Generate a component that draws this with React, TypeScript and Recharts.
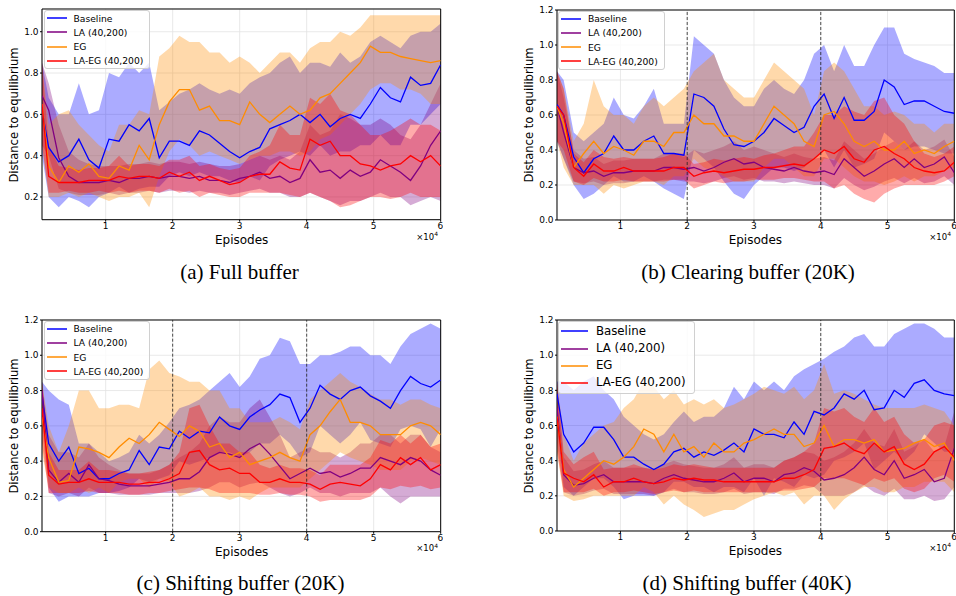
import React from 'react';
import { ComposedChart, Line, Area, XAxis, YAxis, CartesianGrid, ReferenceLine, ReferenceArea } from 'recharts';

// episodes (x 10^4)
const episodes = [
  0.05, 0.15, 0.3, 0.45, 0.6, 0.75, 0.9, 1.05, 1.2, 1.35,
  1.5, 1.65, 1.8, 1.95, 2.1, 2.25, 2.4, 2.55, 2.7, 2.85,
  3.0, 3.15, 3.3, 3.45, 3.6, 3.75, 3.9, 4.05, 4.2, 4.35,
  4.5, 4.65, 4.8, 4.95, 5.1, 5.25, 5.4, 5.55, 5.7, 5.85, 6.0,
];
const xTicks = [1, 2, 3, 4, 5, 6];

// (a) Full buffer
const aBaseMean = [0.62,0.44,0.37,0.40,0.48,0.38,0.34,0.48,0.47,0.55, 0.52,0.58,0.39,0.47,0.47,0.45,0.52,0.50,0.46,0.42, 0.39,0.42,0.44,0.53,0.55,0.57,0.60,0.56,0.60,0.54, 0.58,0.60,0.58,0.65,0.73,0.68,0.66,0.78,0.74,0.75, 0.84];
const aBaseHi = [0.85,0.68,0.60,0.60,0.75,0.60,0.62,0.80,0.78,0.85, 0.80,0.85,0.62,0.66,0.70,0.72,0.75,0.72,0.70,0.72, 0.70,0.75,0.78,0.80,0.85,0.88,0.80,0.85,0.85,0.83, 0.90,0.85,0.88,0.95,0.98,0.95,0.92,0.98,1.00,1.00, 1.04];
const aBaseLo = [0.40,0.20,0.15,0.20,0.18,0.15,0.20,0.22,0.25,0.22, 0.24,0.25,0.25,0.30,0.32,0.30,0.32,0.30,0.30,0.28, 0.27,0.30,0.28,0.35,0.38,0.40,0.42,0.40,0.45,0.40, 0.42,0.42,0.45,0.45,0.50,0.45,0.45,0.55,0.55,0.60, 0.65];
const aLaMean = [0.69,0.62,0.39,0.30,0.27,0.27,0.27,0.28,0.27,0.29, 0.29,0.30,0.29,0.30,0.30,0.29,0.30,0.28,0.28,0.27, 0.29,0.30,0.32,0.29,0.30,0.27,0.29,0.38,0.32,0.33, 0.29,0.33,0.30,0.32,0.38,0.35,0.32,0.28,0.35,0.45, 0.52];
const aLaHi = [0.85,0.75,0.55,0.42,0.38,0.36,0.35,0.35,0.35,0.36, 0.36,0.37,0.36,0.37,0.37,0.36,0.37,0.36,0.35,0.35, 0.36,0.38,0.40,0.38,0.40,0.38,0.42,0.55,0.50,0.52, 0.60,0.58,0.55,0.55,0.58,0.55,0.50,0.48,0.55,0.65, 0.75];
const aLaLo = [0.45,0.40,0.24,0.22,0.21,0.21,0.21,0.22,0.21,0.22, 0.22,0.23,0.22,0.23,0.23,0.22,0.23,0.22,0.22,0.21, 0.22,0.23,0.24,0.22,0.22,0.20,0.20,0.22,0.20,0.18, 0.16,0.18,0.18,0.20,0.22,0.20,0.20,0.16,0.18,0.20, 0.18];
const aEgMean = [0.65,0.35,0.27,0.35,0.32,0.36,0.30,0.29,0.35,0.33, 0.45,0.38,0.55,0.66,0.72,0.72,0.62,0.64,0.57,0.57, 0.55,0.66,0.60,0.56,0.60,0.64,0.60,0.62,0.68,0.70, 0.75,0.80,0.85,0.93,0.90,0.90,0.88,0.87,0.86,0.85, 0.86];
const aEgHi = [0.85,0.55,0.60,0.62,0.55,0.50,0.45,0.42,0.55,0.55, 0.62,0.60,0.88,0.92,0.98,0.95,0.95,0.90,0.90,0.85, 0.88,0.85,0.80,0.85,0.90,0.90,0.85,0.92,0.95,0.95, 1.00,0.98,1.02,1.08,1.08,1.08,1.08,1.08,1.08,1.08, 1.08];
const aEgLo = [0.45,0.20,0.20,0.22,0.20,0.22,0.20,0.18,0.20,0.20, 0.22,0.15,0.30,0.42,0.48,0.45,0.40,0.42,0.40,0.38, 0.36,0.38,0.40,0.40,0.42,0.42,0.40,0.42,0.48,0.50, 0.55,0.60,0.65,0.72,0.75,0.75,0.72,0.72,0.70,0.65, 0.65];
const aLaEgMean = [0.65,0.30,0.27,0.27,0.27,0.28,0.28,0.28,0.30,0.29, 0.30,0.30,0.29,0.32,0.30,0.32,0.28,0.30,0.28,0.26, 0.27,0.30,0.31,0.31,0.37,0.34,0.33,0.48,0.45,0.47, 0.40,0.40,0.36,0.35,0.33,0.35,0.36,0.40,0.37,0.40, 0.35];
const aLaEgHi = [0.85,0.45,0.35,0.34,0.33,0.34,0.34,0.35,0.40,0.35, 0.36,0.36,0.35,0.38,0.38,0.40,0.35,0.36,0.34,0.33, 0.34,0.40,0.42,0.45,0.55,0.50,0.50,0.68,0.65,0.70, 0.62,0.60,0.55,0.50,0.50,0.52,0.55,0.58,0.55,0.55, 0.52];
const aLaEgLo = [0.45,0.22,0.22,0.23,0.22,0.22,0.23,0.22,0.23,0.22, 0.23,0.23,0.22,0.24,0.22,0.23,0.20,0.22,0.21,0.20, 0.20,0.22,0.22,0.22,0.22,0.21,0.20,0.22,0.20,0.18, 0.15,0.16,0.18,0.20,0.20,0.19,0.20,0.22,0.20,0.20, 0.20];

// (b) Clearing buffer (20K)
const bBaseMean = [0.66,0.60,0.36,0.27,0.35,0.38,0.48,0.40,0.40,0.45, 0.48,0.38,0.38,0.37,0.72,0.70,0.65,0.52,0.43,0.42, 0.45,0.50,0.58,0.54,0.50,0.53,0.65,0.72,0.58,0.70, 0.57,0.57,0.62,0.80,0.76,0.66,0.68,0.68,0.65,0.62, 0.61];
const bBaseHi = [0.85,0.80,0.50,0.45,0.50,0.55,0.70,0.60,0.58,0.65, 0.75,0.55,0.55,0.55,1.05,1.00,0.95,0.80,0.70,0.65, 0.65,0.75,0.80,0.75,0.72,0.80,0.95,1.00,0.85,1.00, 0.88,0.88,1.00,1.10,1.10,0.95,0.92,0.90,0.88,0.84, 0.84];
const bBaseLo = [0.45,0.35,0.20,0.12,0.15,0.20,0.25,0.22,0.22,0.25, 0.22,0.18,0.15,0.12,0.40,0.35,0.30,0.22,0.15,0.12, 0.20,0.25,0.30,0.30,0.28,0.30,0.35,0.40,0.30,0.40, 0.30,0.32,0.35,0.50,0.45,0.40,0.42,0.42,0.40,0.38, 0.38];
const bLaMean = [0.65,0.50,0.30,0.27,0.28,0.25,0.27,0.27,0.28,0.28, 0.28,0.30,0.30,0.29,0.30,0.28,0.30,0.33,0.35,0.32, 0.33,0.30,0.29,0.28,0.30,0.28,0.27,0.28,0.26,0.35, 0.30,0.25,0.28,0.32,0.35,0.30,0.35,0.30,0.32,0.36, 0.27];
const bLaHi = [0.85,0.70,0.40,0.35,0.36,0.32,0.34,0.34,0.35,0.35, 0.35,0.38,0.38,0.36,0.40,0.38,0.40,0.42,0.45,0.40, 0.42,0.40,0.38,0.36,0.38,0.36,0.35,0.36,0.34,0.45, 0.40,0.35,0.38,0.42,0.45,0.40,0.45,0.40,0.42,0.46, 0.36];
const bLaLo = [0.45,0.35,0.22,0.21,0.22,0.20,0.21,0.21,0.22,0.22, 0.22,0.23,0.23,0.22,0.22,0.21,0.22,0.24,0.25,0.23, 0.24,0.22,0.22,0.21,0.22,0.21,0.20,0.20,0.18,0.24, 0.20,0.17,0.19,0.22,0.24,0.21,0.24,0.21,0.22,0.25, 0.20];
const bEgMean = [0.65,0.55,0.30,0.38,0.45,0.38,0.42,0.40,0.37,0.45, 0.45,0.42,0.50,0.50,0.60,0.55,0.55,0.48,0.48,0.45, 0.45,0.55,0.65,0.60,0.55,0.45,0.42,0.60,0.62,0.55, 0.45,0.42,0.45,0.40,0.40,0.45,0.38,0.40,0.38,0.42, 0.45];
const bEgHi = [0.85,0.75,0.45,0.55,0.80,0.65,0.60,0.60,0.55,0.65, 0.70,0.65,0.70,0.75,0.85,0.90,0.95,0.80,0.75,0.70, 0.70,0.80,0.90,0.85,0.80,0.75,0.60,0.85,0.90,0.85, 0.75,0.65,0.65,0.60,0.62,0.60,0.55,0.55,0.50,0.55, 0.55];
const bEgLo = [0.45,0.30,0.20,0.20,0.20,0.15,0.20,0.18,0.20,0.22, 0.22,0.20,0.25,0.25,0.35,0.30,0.28,0.25,0.22,0.22, 0.22,0.30,0.35,0.35,0.30,0.25,0.25,0.35,0.35,0.30, 0.25,0.22,0.22,0.20,0.22,0.25,0.22,0.25,0.25,0.28, 0.30];
const bLaEgMean = [0.65,0.60,0.30,0.25,0.32,0.28,0.28,0.30,0.28,0.28, 0.28,0.28,0.30,0.30,0.25,0.27,0.28,0.27,0.28,0.29, 0.29,0.30,0.30,0.31,0.32,0.31,0.35,0.40,0.38,0.42, 0.35,0.33,0.40,0.42,0.38,0.35,0.30,0.28,0.27,0.28, 0.33];
const bLaEgHi = [0.85,0.75,0.38,0.33,0.40,0.36,0.35,0.36,0.35,0.35, 0.35,0.36,0.38,0.38,0.32,0.33,0.35,0.34,0.35,0.36, 0.35,0.37,0.38,0.40,0.42,0.42,0.50,0.60,0.60,0.65, 0.62,0.60,0.68,0.70,0.60,0.55,0.45,0.38,0.36,0.38, 0.42];
const bLaEgLo = [0.45,0.40,0.22,0.20,0.24,0.22,0.22,0.23,0.22,0.22, 0.22,0.22,0.23,0.23,0.18,0.20,0.22,0.21,0.22,0.22, 0.23,0.23,0.23,0.24,0.24,0.23,0.22,0.22,0.18,0.20, 0.15,0.12,0.10,0.15,0.18,0.20,0.20,0.20,0.20,0.22, 0.25];

// (c) Shifting buffer (20K)
const cBaseMean = [0.78,0.50,0.40,0.48,0.33,0.36,0.30,0.30,0.33,0.35, 0.46,0.38,0.48,0.47,0.57,0.53,0.57,0.56,0.65,0.60, 0.58,0.65,0.69,0.72,0.78,0.76,0.62,0.70,0.83,0.78, 0.75,0.80,0.82,0.77,0.74,0.70,0.80,0.88,0.84,0.82, 0.86];
const cBaseHi = [0.85,0.80,0.75,0.72,0.50,0.50,0.45,0.40,0.42,0.45, 0.55,0.50,0.55,0.62,0.70,0.72,0.75,0.80,0.85,0.90, 0.82,0.88,0.98,1.00,1.10,1.08,0.95,0.95,1.00,1.00, 1.02,1.05,1.05,1.00,1.00,0.95,1.05,1.12,1.15,1.18, 1.15];
const cBaseLo = [0.70,0.25,0.17,0.20,0.20,0.20,0.22,0.22,0.23,0.25, 0.30,0.28,0.30,0.32,0.40,0.38,0.40,0.42,0.45,0.45, 0.42,0.45,0.50,0.50,0.55,0.50,0.42,0.45,0.60,0.55, 0.50,0.55,0.62,0.52,0.50,0.48,0.58,0.60,0.58,0.48, 0.58];
const cLaMean = [0.80,0.35,0.28,0.33,0.28,0.38,0.30,0.29,0.27,0.26, 0.26,0.26,0.27,0.28,0.30,0.30,0.34,0.42,0.45,0.44, 0.42,0.47,0.50,0.44,0.37,0.30,0.33,0.36,0.33,0.34, 0.31,0.33,0.36,0.36,0.42,0.40,0.38,0.42,0.40,0.35, 0.32];
const cLaHi = [0.85,0.55,0.45,0.45,0.42,0.50,0.42,0.38,0.35,0.33, 0.33,0.33,0.35,0.38,0.42,0.45,0.50,0.60,0.65,0.62, 0.62,0.70,0.75,0.65,0.55,0.42,0.45,0.48,0.45,0.45, 0.42,0.45,0.50,0.50,0.55,0.55,0.50,0.55,0.55,0.48, 0.45];
const cLaLo = [0.60,0.22,0.20,0.22,0.20,0.25,0.22,0.22,0.21,0.21, 0.21,0.21,0.22,0.22,0.22,0.22,0.23,0.25,0.28,0.28, 0.25,0.27,0.28,0.25,0.22,0.20,0.22,0.25,0.22,0.22, 0.20,0.22,0.22,0.22,0.25,0.20,0.16,0.20,0.20,0.20, 0.20];
const cEgMean = [0.65,0.42,0.28,0.29,0.48,0.47,0.45,0.42,0.48,0.53, 0.50,0.55,0.62,0.58,0.54,0.60,0.57,0.48,0.50,0.42, 0.45,0.38,0.40,0.42,0.45,0.42,0.40,0.55,0.60,0.68, 0.75,0.62,0.62,0.60,0.55,0.55,0.55,0.60,0.62,0.60, 0.55];
const cEgHi = [0.85,0.60,0.45,0.60,0.80,0.80,0.70,0.70,0.72,0.72, 0.70,0.92,0.97,0.90,0.88,0.85,0.85,0.80,0.80,0.70, 0.70,0.62,0.62,0.62,0.65,0.62,0.58,0.75,0.80,0.85, 0.90,0.85,0.82,0.78,0.75,0.75,0.72,0.75,0.75,0.72, 0.70];
const cEgLo = [0.45,0.25,0.22,0.22,0.25,0.22,0.25,0.22,0.28,0.30, 0.30,0.25,0.30,0.28,0.20,0.22,0.25,0.20,0.20,0.18, 0.20,0.18,0.22,0.25,0.25,0.25,0.25,0.30,0.35,0.40, 0.45,0.42,0.40,0.38,0.35,0.35,0.35,0.40,0.42,0.40, 0.38];
const cLaEgMean = [0.70,0.32,0.27,0.28,0.28,0.30,0.28,0.28,0.28,0.27, 0.27,0.28,0.28,0.30,0.33,0.45,0.46,0.38,0.35,0.36, 0.33,0.33,0.28,0.28,0.30,0.28,0.28,0.27,0.24,0.27, 0.28,0.27,0.26,0.30,0.38,0.35,0.42,0.38,0.42,0.35, 0.38];
const cLaEgHi = [0.85,0.45,0.35,0.35,0.35,0.40,0.35,0.35,0.34,0.33, 0.33,0.34,0.35,0.38,0.45,0.70,0.72,0.60,0.50,0.50, 0.45,0.45,0.38,0.36,0.38,0.36,0.36,0.35,0.32,0.38, 0.38,0.38,0.38,0.42,0.52,0.50,0.55,0.50,0.55,0.48, 0.50];
const cLaEgLo = [0.50,0.22,0.22,0.22,0.22,0.23,0.22,0.22,0.22,0.21, 0.21,0.22,0.22,0.23,0.24,0.25,0.25,0.24,0.22,0.22, 0.22,0.22,0.21,0.21,0.22,0.21,0.21,0.20,0.17,0.18, 0.18,0.18,0.18,0.20,0.25,0.24,0.26,0.25,0.26,0.24, 0.25];

// (d) Shifting buffer (40K)
const dBaseMean = [0.78,0.55,0.45,0.50,0.59,0.59,0.52,0.42,0.42,0.38, 0.35,0.38,0.45,0.47,0.42,0.45,0.43,0.46,0.50,0.45, 0.58,0.55,0.55,0.53,0.62,0.55,0.68,0.66,0.70,0.78, 0.75,0.80,0.69,0.70,0.80,0.76,0.84,0.86,0.80,0.78, 0.77];
const dBaseHi = [0.85,0.85,0.80,0.85,0.88,0.80,0.75,0.65,0.60,0.55, 0.52,0.55,0.62,0.68,0.62,0.65,0.65,0.70,0.82,0.75, 0.85,0.80,0.85,0.80,0.88,0.92,0.95,0.98,1.02,1.05, 1.10,1.12,1.05,1.05,1.12,1.15,1.18,1.18,1.15,1.10, 1.10];
const dBaseLo = [0.60,0.25,0.20,0.25,0.30,0.30,0.25,0.18,0.20,0.20, 0.20,0.22,0.28,0.28,0.25,0.25,0.22,0.25,0.25,0.22, 0.30,0.20,0.30,0.28,0.25,0.32,0.30,0.32,0.40,0.42, 0.45,0.50,0.35,0.40,0.45,0.40,0.45,0.55,0.50,0.45, 0.45];
const dLaMean = [0.70,0.32,0.26,0.27,0.30,0.32,0.28,0.28,0.28,0.28, 0.27,0.30,0.32,0.30,0.29,0.28,0.28,0.30,0.33,0.28, 0.30,0.30,0.28,0.32,0.33,0.36,0.34,0.29,0.30,0.32, 0.36,0.42,0.35,0.32,0.40,0.30,0.32,0.35,0.28,0.30, 0.47];
const dLaHi = [0.85,0.42,0.34,0.35,0.38,0.40,0.36,0.36,0.36,0.36, 0.35,0.38,0.40,0.38,0.37,0.36,0.36,0.38,0.42,0.36, 0.38,0.38,0.36,0.40,0.42,0.45,0.44,0.40,0.42,0.45, 0.50,0.58,0.50,0.48,0.58,0.45,0.48,0.52,0.45,0.48, 0.68];
const dLaLo = [0.50,0.22,0.20,0.21,0.23,0.24,0.21,0.21,0.21,0.21, 0.20,0.22,0.24,0.22,0.22,0.21,0.21,0.22,0.24,0.21, 0.22,0.22,0.21,0.24,0.24,0.26,0.25,0.20,0.20,0.20, 0.22,0.26,0.22,0.20,0.24,0.18,0.18,0.20,0.17,0.18, 0.25];
const dEgMean = [0.65,0.35,0.25,0.30,0.35,0.40,0.38,0.42,0.48,0.58, 0.55,0.45,0.55,0.45,0.48,0.42,0.50,0.45,0.45,0.50, 0.52,0.55,0.58,0.55,0.55,0.48,0.50,0.60,0.48,0.52, 0.52,0.50,0.52,0.45,0.46,0.47,0.50,0.52,0.48,0.50, 0.40];
const dEgHi = [0.85,0.55,0.40,0.50,0.55,0.60,0.62,0.70,0.75,0.85, 0.82,0.75,0.80,0.72,0.75,0.72,0.75,0.70,0.72,0.75, 0.78,0.82,0.80,0.78,0.82,0.75,0.80,0.95,0.78,0.80, 0.78,0.75,0.72,0.70,0.70,0.70,0.70,0.72,0.70,0.68, 0.60];
const dEgLo = [0.45,0.20,0.17,0.18,0.20,0.20,0.20,0.20,0.20,0.25, 0.22,0.15,0.20,0.15,0.12,0.08,0.10,0.12,0.12,0.15, 0.18,0.20,0.22,0.20,0.22,0.15,0.20,0.20,0.12,0.18, 0.22,0.25,0.25,0.22,0.22,0.25,0.25,0.28,0.28,0.28, 0.22];
const dLaEgMean = [0.65,0.33,0.30,0.28,0.32,0.25,0.28,0.28,0.30,0.28, 0.27,0.28,0.30,0.29,0.30,0.29,0.29,0.28,0.28,0.28, 0.28,0.28,0.28,0.30,0.30,0.32,0.35,0.47,0.48,0.50, 0.46,0.44,0.50,0.45,0.48,0.38,0.35,0.38,0.45,0.48, 0.42];
const dLaEgHi = [0.85,0.45,0.38,0.42,0.45,0.35,0.36,0.36,0.38,0.36, 0.35,0.36,0.38,0.37,0.38,0.37,0.36,0.36,0.36,0.36, 0.36,0.36,0.36,0.40,0.42,0.45,0.50,0.70,0.68,0.70, 0.65,0.62,0.70,0.62,0.65,0.55,0.50,0.52,0.60,0.62, 0.60];
const dLaEgLo = [0.45,0.22,0.22,0.22,0.24,0.20,0.22,0.22,0.23,0.22, 0.21,0.22,0.23,0.22,0.23,0.22,0.22,0.22,0.22,0.22, 0.22,0.22,0.22,0.23,0.23,0.24,0.25,0.30,0.30,0.30, 0.28,0.26,0.30,0.28,0.30,0.24,0.22,0.24,0.30,0.32, 0.28];

const SERIES = [
  { key: 'base', name: 'Baseline', color: '#0000ff' },
  { key: 'la', name: 'LA (40,200)', color: '#800080' },
  { key: 'eg', name: 'EG', color: '#ff8c00' },
  { key: 'laeg', name: 'LA-EG (40,200)', color: '#ff0000' },
];

type Band = { mean: number[]; lo: number[]; hi: number[] };

const buildRows = (s: Record<string, Band>) =>
  episodes.map((x, i) => {
    const row: any = { x };
    Object.keys(s).forEach((k) => {
      row[k] = s[k].mean[i];
      row[k + 'Band'] = [s[k].lo[i], s[k].hi[i]];
    });
    return row;
  });

const rowsA = buildRows({
  base: { mean: aBaseMean, lo: aBaseLo, hi: aBaseHi },
  la: { mean: aLaMean, lo: aLaLo, hi: aLaHi },
  eg: { mean: aEgMean, lo: aEgLo, hi: aEgHi },
  laeg: { mean: aLaEgMean, lo: aLaEgLo, hi: aLaEgHi },
});
const rowsB = buildRows({
  base: { mean: bBaseMean, lo: bBaseLo, hi: bBaseHi },
  la: { mean: bLaMean, lo: bLaLo, hi: bLaHi },
  eg: { mean: bEgMean, lo: bEgLo, hi: bEgHi },
  laeg: { mean: bLaEgMean, lo: bLaEgLo, hi: bLaEgHi },
});
const rowsC = buildRows({
  base: { mean: cBaseMean, lo: cBaseLo, hi: cBaseHi },
  la: { mean: cLaMean, lo: cLaLo, hi: cLaHi },
  eg: { mean: cEgMean, lo: cEgLo, hi: cEgHi },
  laeg: { mean: cLaEgMean, lo: cLaEgLo, hi: cLaEgHi },
});
const rowsD = buildRows({
  base: { mean: dBaseMean, lo: dBaseLo, hi: dBaseHi },
  la: { mean: dLaMean, lo: dLaLo, hi: dLaHi },
  eg: { mean: dEgMean, lo: dEgLo, hi: dEgHi },
  laeg: { mean: dLaEgMean, lo: dLaEgLo, hi: dLaEgHi },
});

const FONT = '"DejaVu Sans", sans-serif';
const X_MIN = 0.05;
const X_MAX = 6;

interface PanelProps {
  rows: any[];
  px0: number; px1: number; py0: number; py1: number;
  yDomain: [number, number];
  yTicks: number[];
  dashed: number[];
  big?: boolean;
  caption: string;
  captionX: number;
  captionY: number;
}

const abs = (left: number, top: number): React.CSSProperties => ({
  position: 'absolute', left, top, whiteSpace: 'nowrap', lineHeight: 1,
});

const Panel: React.FC<PanelProps> = ({ rows, px0, px1, py0, py1, yDomain, yTicks, dashed, big, caption, captionX, captionY }) => {
  const width = px1 - px0 + 44;
  const height = py1 - py0 + 40;
  const legFont = big ? 11.8 : 9.2;
  const rowH = big ? 17.3 : 14.2;
  const sample = big ? 27 : 20;
  return (
    <>
      <div style={{ position: 'absolute', left: px0 - 42, top: py0 - 10 }}>
        <ComposedChart
          width={width}
          height={height}
          data={rows}
          margin={{ top: 10, right: 2, left: 10, bottom: 10 }}
          style={{ fontFamily: FONT }}
        >
          <CartesianGrid stroke="#e3e3e3" strokeWidth={0.8} />
          <XAxis
            type="number"
            dataKey="x"
            domain={[X_MIN, X_MAX]}
            ticks={xTicks}
            allowDataOverflow
            height={20}
            tickSize={2}
            tickMargin={1}
            axisLine={false}
            tickLine={{ stroke: '#000' }}
            tick={{ fontSize: 9, fill: '#000' }}
          />
          <YAxis
            type="number"
            domain={yDomain}
            ticks={yTicks}
            allowDataOverflow
            width={32}
            tickSize={2}
            tickMargin={1.5}
            axisLine={false}
            tickLine={{ stroke: '#000' }}
            tick={{ fontSize: 9, fill: '#000' }}
            tickFormatter={(v: number) => v.toFixed(1)}
          />
          {SERIES.map((s) => (
            <Area
              key={s.key + 'Band'}
              type="linear"
              dataKey={s.key + 'Band'}
              stroke="none"
              fill={s.color}
              fillOpacity={0.33}
              dot={false}
              activeDot={false}
              legendType="none"
              isAnimationActive={false}
            />
          ))}
          {SERIES.map((s) => (
            <Line
              key={s.key}
              type="linear"
              dataKey={s.key}
              stroke={s.color}
              strokeWidth={1.3}
              dot={false}
              activeDot={false}
              isAnimationActive={false}
            />
          ))}
          {dashed.map((d) => (
            <ReferenceLine key={d} x={d} stroke="#222" strokeWidth={0.8} strokeDasharray="3 2" />
          ))}
          <ReferenceArea
            x1={X_MIN}
            x2={X_MAX}
            y1={yDomain[0]}
            y2={yDomain[1]}
            fill="none"
            stroke="#000"
            strokeWidth={1}
            ifOverflow="visible"
          />
        </ComposedChart>
      </div>

      <div
        style={{
          ...abs(px0 + 1.2, py0 + 0.8),
          zIndex: 2,
          background: 'rgba(255,255,255,0.8)',
          border: '1px solid #d0d0d0',
          borderRadius: 3,
          padding: big ? '1px 8px 1px 2px' : '0 6px 0 2px',
          fontFamily: FONT,
          fontSize: legFont,
        }}
      >
        {SERIES.map((s) => (
          <div key={s.key} style={{ display: 'flex', alignItems: 'center', height: rowH }}>
            <svg width={sample} height={4} style={{ marginRight: big ? 8 : 7, display: 'block' }}>
              <line x1={0} y1={2} x2={sample} y2={2} stroke={s.color} strokeWidth={1.5} />
            </svg>
            <span>{s.name}</span>
          </div>
        ))}
      </div>

      <div style={{ ...abs((px0 + px1) / 2, py1 + 20), transform: 'translate(-50%,-50%)', fontFamily: FONT, fontSize: 12 }}>
        Episodes
      </div>
      <div style={{ ...abs(px0 - 27, (py0 + py1) / 2), transform: 'translate(-50%,-50%) rotate(-90deg)', fontFamily: FONT, fontSize: 11.6 }}>
        Distance to equilibrium
      </div>
      <div style={{ ...abs(px1 - 3, py1 + 12.5), transform: 'translateX(-100%)', fontFamily: FONT, fontSize: 8.5 }}>
        ×10<span style={{ fontSize: 6, position: 'relative', top: -3.5 }}>4</span>
      </div>
      <div style={{ ...abs(captionX, captionY), transform: 'translate(-50%,-50%)', fontFamily: '"Liberation Serif", "Times New Roman", serif', fontSize: 21 }}>
        {caption}
      </div>
    </>
  );
};

const smallTicks = [0.2, 0.4, 0.6, 0.8, 1.0];
const fullTicks = [0, 0.2, 0.4, 0.6, 0.8, 1.0, 1.2];

export default function App() {
  return (
    <div style={{ position: 'absolute', left: 0, top: 0, width: 956, height: 596, overflow: 'hidden', background: '#fff' }}>
      <Panel rows={rowsA} px0={42.3} px1={441} py0={9.3} py1={220} yDomain={[0.09, 1.11]} yTicks={smallTicks} dashed={[]} caption="(a) Full buffer" captionX={239.5} captionY={272} />
      <Panel rows={rowsB} px0={556.7} px1={954} py0={10} py1={220} yDomain={[0, 1.2]} yTicks={fullTicks} dashed={[2, 4]} caption="(b) Clearing buffer (20K)" captionX={748} captionY={272} />
      <Panel rows={rowsC} px0={42.3} px1={441} py0={320} py1={531.7} yDomain={[0, 1.2]} yTicks={fullTicks} dashed={[2, 4]} caption="(c) Shifting buffer (20K)" captionX={240.5} captionY={583} />
      <Panel rows={rowsD} px0={556.7} px1={954} py0={320} py1={531} yDomain={[0, 1.2]} yTicks={fullTicks} dashed={[4]} big caption="(d) Shifting buffer (40K)" captionX={747} captionY={583} />
    </div>
  );
}
